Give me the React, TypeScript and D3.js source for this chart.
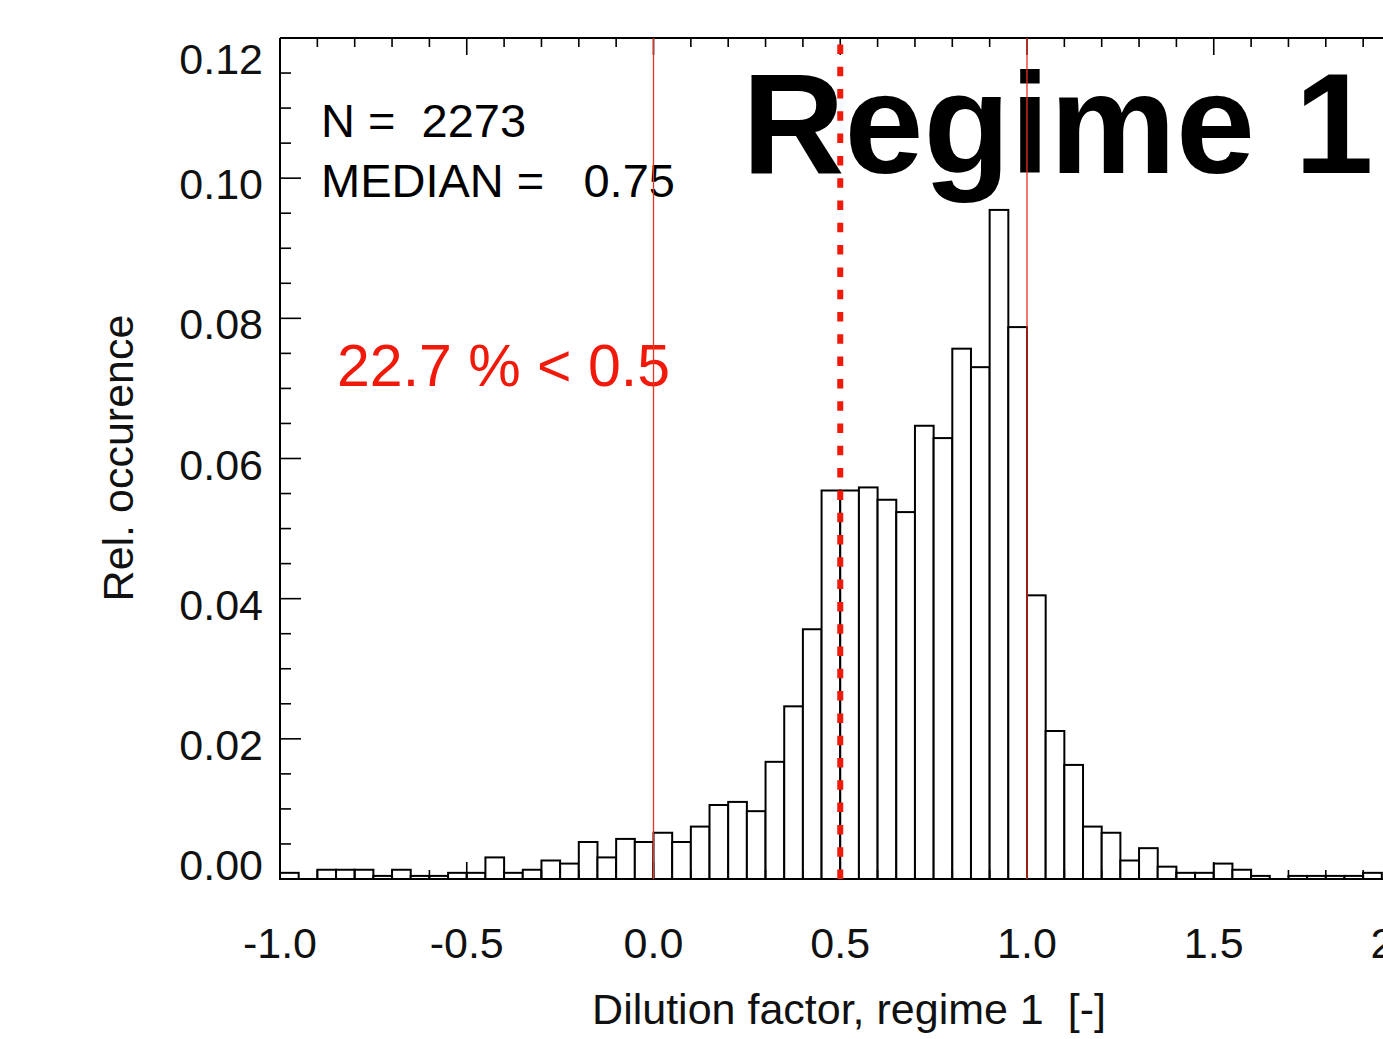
import React from "react";
import * as d3 from "d3";

// Histogram of dilution factor, bins of 0.05 starting at -1.0
const N_TOTAL = 2273;
const MEDIAN = 0.75;
const BIN_START = -1.0;
const BIN_WIDTH = 0.05;
const binCounts = [
  2, 0, 3, 3, 3, 1, 3, 1, 1, 2,
  2, 7, 2, 3, 6, 5, 12, 7, 13, 12,
  15, 12, 17, 24, 25, 22, 38, 56, 81, 126,
  126, 127, 123, 119, 147, 143, 172, 166, 217, 179,
  92, 48, 37, 17, 15, 6, 10, 4, 2, 2,
  5, 3, 1, 0, 1, 1, 1, 1, 2,
];
const xTicks = [-1.0, -0.5, 0.0, 0.5, 1.0, 1.5, 2.0];
const yTicks = [0.0, 0.02, 0.04, 0.06, 0.08, 0.1, 0.12];
const thinRedLines = [0.0, 1.0];
const thresholdLine = 0.5;
const fractionBelow = "22.7";

const W = 1383;
const H = 1039;
const FONT = "'Liberation Sans', Arial, Helvetica, sans-serif";
const RED = "#f0190a";
const NBSP = "\u00A0";

export default function App() {
  const x = d3.scaleLinear().domain([-1, 2]).range([280, 1400.5]);
  const y = d3.scaleLinear().domain([0, 0.12]).range([879, 38]);
  const [x0, x1] = x.range();
  const [yb, yt] = y.range();

  const bins = binCounts.map((c, i) => ({
    a: BIN_START + i * BIN_WIDTH,
    b: BIN_START + (i + 1) * BIN_WIDTH,
    v: c / N_TOTAL,
  }));

  const xMinor = d3.range(-1, 2.0001, 0.1).map((d) => +d.toFixed(2));
  const yMinor = d3.range(0, 0.12001, 0.005).map((d) => +d.toFixed(3));
  const isMajorX = (d: number) => Math.abs(d * 2 - Math.round(d * 2)) < 1e-6;
  const isMajorY = (d: number) => Math.abs(d * 50 - Math.round(d * 50)) < 1e-6;

  return (
    <svg
      width={W}
      height={H}
      style={{ position: "absolute", left: 0, top: 0, background: "#fff" }}
      fontFamily={FONT}
    >
      <rect x={0} y={0} width={W} height={H} fill="#fff" />

      {/* bars */}
      <g stroke="#000" strokeWidth={2} fill="#fff">
        {bins
          .filter((d) => d.v > 0)
          .map((d, i) => (
            <rect
              key={i}
              x={x(d.a)}
              y={y(d.v)}
              width={x(d.b) - x(d.a)}
              height={yb - y(d.v)}
            />
          ))}
      </g>

      {/* frame */}
      <g stroke="#000" strokeWidth={2} fill="none">
        <line x1={x0} x2={x1} y1={yb} y2={yb} />
        <line x1={x0} x2={x1} y1={yt} y2={yt} />
        <line x1={x0} x2={x0} y1={yt} y2={yb} />
        <line x1={x1} x2={x1} y1={yt} y2={yb} />
      </g>

      {/* ticks */}
      <g stroke="#000" strokeWidth={1.6}>
        {xMinor.map((d) => {
          const len = isMajorX(d) ? 17 : 9;
          return (
            <g key={"xt" + d}>
              <line x1={x(d)} x2={x(d)} y1={yb} y2={yb - len} />
              <line x1={x(d)} x2={x(d)} y1={yt} y2={yt + len} />
            </g>
          );
        })}
        {yMinor.map((d) => {
          const len = isMajorY(d) ? 21 : 11;
          return <line key={"yt" + d} x1={x0} x2={x0 + len} y1={y(d)} y2={y(d)} />;
        })}
      </g>

      {/* tick labels */}
      <g fontSize={43} fill="#111">
        {xTicks.map((d) => (
          <text key={"xl" + d} x={x(d)} y={958} textAnchor="middle">
            {d.toFixed(1)}
          </text>
        ))}
        {yTicks.map((d) => {
          const base = Math.max(74, Math.min(880, y(d) + 21));
          return (
            <text key={"yl" + d} x={263} y={base} textAnchor="end">
              {d.toFixed(2)}
            </text>
          );
        })}
      </g>

      {/* axis titles */}
      <text x={849} y={1024} fontSize={43} textAnchor="middle" fill="#111">
        {`Dilution factor, regime 1 ${NBSP}[-]`}
      </text>
      <text
        transform="translate(133,458) rotate(-90)"
        fontSize={43}
        textAnchor="middle"
        fill="#111"
      >
        Rel. occurence
      </text>

      {/* annotations */}
      <g fontSize={47} fill="#000">
        <text x={321} y={137}>{`N =${NBSP}${NBSP}${N_TOTAL}`}</text>
        <text x={321} y={197}>{`MEDIAN =${NBSP}${NBSP}${NBSP}${MEDIAN.toFixed(2)}`}</text>
      </g>
      <text x={337} y={386} fontSize={59} fill={RED}>
        {`${fractionBelow} % < ${thresholdLine.toFixed(1)}`}
      </text>
      <text x={742} y={173} fontSize={142} fontWeight="bold" fill="#000">
        Regime 1
      </text>

      {/* reference lines */}
      {thinRedLines.map((d) => (
        <line
          key={"rl" + d}
          x1={x(d)}
          x2={x(d)}
          y1={yt}
          y2={yb}
          stroke="#e5341f"
          strokeWidth={1.3}
        />
      ))}
      <line
        x1={x(thresholdLine)}
        x2={x(thresholdLine)}
        y1={yb}
        y2={yt}
        stroke={RED}
        strokeWidth={6}
        strokeDasharray="9.5 12.8"
      />
    </svg>
  );
}
